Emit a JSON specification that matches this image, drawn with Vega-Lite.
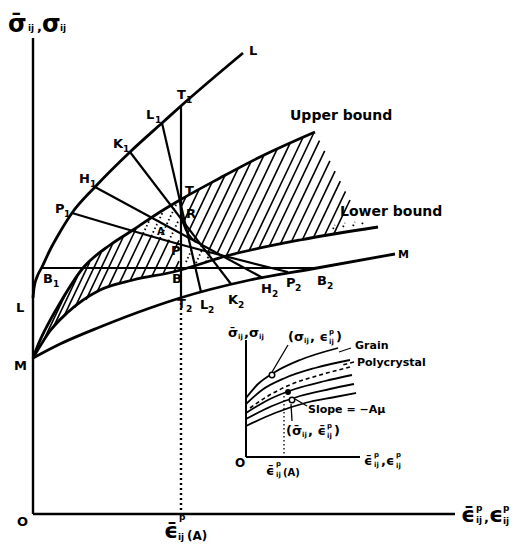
{
"$schema": "https://vega.github.io/schema/vega-lite/v6.json",
"width": 515, "height": 546,
"autosize": {"type": "fit", "contains": "padding"},
"padding": 0,
"background": "#ffffff",
"config": {"view": {"stroke": null}},
"datasets": {
"lines": [
{"id":"ya","k":"axis","o":1,"x":0,"y":0},{"id":"ya","k":"axis","o":2,"x":0,"y":476},
{"id":"xa","k":"axis","o":1,"x":0,"y":0},{"id":"xa","k":"axis","o":2,"x":422,"y":0},
{"id":"Lc","k":"thick","o":1,"x":0,"y":216},{"id":"Lc","k":"thick","o":2,"x":1,"y":226},{"id":"Lc","k":"thick","o":3,"x":4,"y":237},{"id":"Lc","k":"thick","o":4,"x":9,"y":247},{"id":"Lc","k":"thick","o":5,"x":17,"y":264},{"id":"Lc","k":"thick","o":6,"x":27,"y":282},{"id":"Lc","k":"thick","o":7,"x":39,"y":301},{"id":"Lc","k":"thick","o":8,"x":62,"y":327},{"id":"Lc","k":"thick","o":9,"x":97,"y":362},{"id":"Lc","k":"thick","o":10,"x":129,"y":391},{"id":"Lc","k":"thick","o":11,"x":149,"y":409},{"id":"Lc","k":"thick","o":12,"x":210,"y":461},
{"id":"Mc","k":"thick","o":1,"x":0,"y":156},{"id":"Mc","k":"thick","o":2,"x":27,"y":170},{"id":"Mc","k":"thick","o":3,"x":67,"y":187},{"id":"Mc","k":"thick","o":4,"x":117,"y":206},{"id":"Mc","k":"thick","o":5,"x":147,"y":216},{"id":"Mc","k":"thick","o":6,"x":217,"y":234},{"id":"Mc","k":"thick","o":7,"x":284,"y":246},{"id":"Mc","k":"thick","o":8,"x":362,"y":260},
{"id":"Ub","k":"thick","o":1,"x":0,"y":156},{"id":"Ub","k":"thick","o":2,"x":5,"y":169},{"id":"Ub","k":"thick","o":3,"x":12,"y":184},{"id":"Ub","k":"thick","o":4,"x":27,"y":211},{"id":"Ub","k":"thick","o":5,"x":50,"y":246},{"id":"Ub","k":"thick","o":6,"x":77,"y":269},{"id":"Ub","k":"thick","o":7,"x":100,"y":284},{"id":"Ub","k":"thick","o":8,"x":127,"y":302},{"id":"Ub","k":"thick","o":9,"x":147,"y":314},{"id":"Ub","k":"thick","o":10,"x":187,"y":336},{"id":"Ub","k":"thick","o":11,"x":227,"y":357},{"id":"Ub","k":"thick","o":12,"x":282,"y":382},
{"id":"Lb","k":"thick","o":1,"x":0,"y":156},{"id":"Lb","k":"thick","o":2,"x":9,"y":171},{"id":"Lb","k":"thick","o":3,"x":17,"y":183},{"id":"Lb","k":"thick","o":4,"x":34,"y":201},{"id":"Lb","k":"thick","o":5,"x":67,"y":224},{"id":"Lb","k":"thick","o":6,"x":100,"y":234},{"id":"Lb","k":"thick","o":7,"x":140,"y":242},{"id":"Lb","k":"thick","o":8,"x":197,"y":259},{"id":"Lb","k":"thick","o":9,"x":267,"y":274},{"id":"Lb","k":"thick","o":10,"x":345,"y":287},
{"id":"Ev","k":"mid","o":1,"x":147,"y":316},{"id":"Ev","k":"mid","o":2,"x":148,"y":302},{"id":"Ev","k":"mid","o":3,"x":151,"y":289},{"id":"Ev","k":"mid","o":4,"x":156,"y":279},{"id":"Ev","k":"mid","o":5,"x":163,"y":272},
{"id":"Pr","k":"mid","o":1,"x":39,"y":301},{"id":"Pr","k":"mid","o":2,"x":142,"y":271},{"id":"Pr","k":"mid","o":3,"x":255,"y":242},
{"id":"Hr","k":"mid","o":1,"x":62,"y":327},{"id":"Hr","k":"mid","o":2,"x":230,"y":236},
{"id":"Kr","k":"mid","o":1,"x":97,"y":362},{"id":"Kr","k":"mid","o":2,"x":198,"y":230},
{"id":"Lr","k":"mid","o":1,"x":129,"y":391},{"id":"Lr","k":"mid","o":2,"x":168,"y":222},
{"id":"Tr","k":"mid","o":1,"x":148,"y":409},{"id":"Tr","k":"mid","o":2,"x":148,"y":216},
{"id":"Br","k":"mid","o":1,"x":9,"y":246},{"id":"Br","k":"mid","o":2,"x":284,"y":246},
{"id":"Td","k":"dot","o":1,"x":148,"y":216},{"id":"Td","k":"dot","o":2,"x":148,"y":0},
{"id":"iy","k":"iaxis","o":1,"x":213,"y":57},{"id":"iy","k":"iaxis","o":2,"x":213,"y":174},
{"id":"ix","k":"iaxis","o":1,"x":213,"y":57},{"id":"ix","k":"iaxis","o":2,"x":327,"y":57},
{"id":"c1","k":"icurve","o":1,"x":213,"y":116},{"id":"c1","k":"icurve","o":2,"x":225,"y":130},{"id":"c1","k":"icurve","o":3,"x":242,"y":142},{"id":"c1","k":"icurve","o":4,"x":267,"y":154},{"id":"c1","k":"icurve","o":5,"x":305,"y":166},
{"id":"c2","k":"icurve","o":1,"x":213,"y":110},{"id":"c2","k":"icurve","o":2,"x":229,"y":124},{"id":"c2","k":"icurve","o":3,"x":252,"y":136},{"id":"c2","k":"icurve","o":4,"x":282,"y":146},{"id":"c2","k":"icurve","o":5,"x":317,"y":154},
{"id":"c3","k":"dash","o":1,"x":217,"y":106},{"id":"c3","k":"dash","o":2,"x":235,"y":118},{"id":"c3","k":"dash","o":3,"x":259,"y":130},{"id":"c3","k":"dash","o":4,"x":287,"y":139},{"id":"c3","k":"dash","o":5,"x":317,"y":147},
{"id":"c4","k":"icurve","o":1,"x":213,"y":101},{"id":"c4","k":"icurve","o":2,"x":235,"y":114},{"id":"c4","k":"icurve","o":3,"x":262,"y":125},{"id":"c4","k":"icurve","o":4,"x":292,"y":133},{"id":"c4","k":"icurve","o":5,"x":319,"y":139},
{"id":"c5","k":"icurve","o":1,"x":213,"y":95},{"id":"c5","k":"icurve","o":2,"x":239,"y":108},{"id":"c5","k":"icurve","o":3,"x":267,"y":118},{"id":"c5","k":"icurve","o":4,"x":297,"y":125},{"id":"c5","k":"icurve","o":5,"x":321,"y":130},
{"id":"c6","k":"icurve","o":1,"x":213,"y":88},{"id":"c6","k":"icurve","o":2,"x":242,"y":101},{"id":"c6","k":"icurve","o":3,"x":272,"y":111},{"id":"c6","k":"icurve","o":4,"x":302,"y":117},{"id":"c6","k":"icurve","o":5,"x":323,"y":121},
{"id":"l1","k":"thin","o":1,"x":255,"y":169},{"id":"l1","k":"thin","o":2,"x":239,"y":142},
{"id":"l2","k":"thin","o":1,"x":318,"y":166},{"id":"l2","k":"thin","o":2,"x":306,"y":162},
{"id":"l3","k":"dash","o":1,"x":321,"y":152},{"id":"l3","k":"dash","o":2,"x":309,"y":149},
{"id":"l4","k":"thin","o":1,"x":274,"y":108},{"id":"l4","k":"thin","o":2,"x":262,"y":115},
{"id":"l5","k":"thin","o":1,"x":259,"y":93},{"id":"l5","k":"thin","o":2,"x":258,"y":110},
{"id":"id","k":"idot","o":1,"x":251,"y":118},{"id":"id","k":"idot","o":2,"x":251,"y":57}
],
"hatch": [
{"k":"s","x":9,"y":170.3,"x2":32,"y2":218.6},
{"k":"s","x":20,"y":186.2,"x2":44.5,"y2":237.6},
{"k":"s","x":31,"y":197.8,"x2":56.7,"y2":251.8},
{"k":"s","x":42,"y":206.6,"x2":68.1,"y2":261.4},
{"k":"s","x":53,"y":214.2,"x2":80,"y2":270.9},
{"k":"s","x":64,"y":221.9,"x2":90.7,"y2":278},
{"k":"s","x":75,"y":226.4,"x2":103.6,"y2":286.5},
{"k":"s","x":86,"y":229.8,"x2":110.1,"y2":280.4},
{"k":"s","x":97,"y":233.1,"x2":118.3,"y2":277.8},
{"k":"s","x":108,"y":235.6,"x2":127,"y2":275.5},
{"k":"s","x":119,"y":237.8,"x2":135.7,"y2":272.9},
{"k":"s","x":130,"y":240,"x2":146,"y2":273.6},
{"k":"s","x":141,"y":242.3,"x2":146,"y2":252.8},
{"k":"d","x":110.1,"y":280.4,"x2":117.3,"y2":295.5},
{"k":"d","x":118.3,"y":277.8,"x2":130.9,"y2":304.3},
{"k":"d","x":127,"y":275.5,"x2":144.7,"y2":312.7},
{"k":"d","x":135.7,"y":272.9,"x2":146,"y2":294.5},
{"k":"d","x":153,"y":252,"x2":159,"y2":265},
{"k":"d","x":163,"y":251,"x2":169,"y2":264},
{"k":"d","x":173,"y":252,"x2":177,"y2":261},
{"k":"d","x":300,"y":285,"x2":302,"y2":289},
{"k":"d","x":310,"y":287,"x2":312,"y2":291},
{"k":"d","x":320,"y":288,"x2":322,"y2":292},
{"k":"d","x":329,"y":290,"x2":331,"y2":293},
{"k":"s","x":147.7,"y":306.2,"x2":153,"y2":317.3},
{"k":"s","x":149.8,"y":290.4,"x2":166,"y2":324.45},
{"k":"s","x":154.7,"y":280.6,"x2":179,"y2":331.6},
{"k":"s","x":160.8,"y":273.1,"x2":192,"y2":338.6},
{"k":"s","x":167.8,"y":267.3,"x2":205,"y2":345.45},
{"k":"s","x":175.3,"y":262.6,"x2":218,"y2":352.3},
{"k":"s","x":183.6,"y":259.3,"x2":231,"y2":358.8},
{"k":"s","x":193.2,"y":258,"x2":244,"y2":364.7},
{"k":"s","x":204.6,"y":260.6,"x2":257,"y2":370.6},
{"k":"s","x":216,"y":263.1,"x2":270,"y2":376.5},
{"k":"s","x":225.6,"y":265.2,"x2":281,"y2":381.5},
{"k":"s","x":236.1,"y":267.5,"x2":286.5,"y2":373.3},
{"k":"s","x":247.2,"y":269.7,"x2":291.7,"y2":363.2},
{"k":"s","x":258.3,"y":272,"x2":296.9,"y2":353.05},
{"k":"s","x":269.5,"y":274.5,"x2":302.1,"y2":342.95},
{"k":"s","x":280.3,"y":276.1,"x2":307.3,"y2":332.8},
{"k":"s","x":291.2,"y":278,"x2":312.5,"y2":322.7},
{"k":"s","x":300.6,"y":279.6,"x2":317,"y2":314}
],
"pts": [
{"k":"o","x":239,"y":139},{"k":"o","x":259,"y":114},{"k":"f","x":255,"y":122}
],
"labels": [
{"t":"σ̄","x":-25,"y":482,"k":"ax"},{"t":"ij","x":-5,"y":483,"k":"sub"},{"t":",","x":4,"y":483,"k":"lab"},{"t":"σ","x":9,"y":482,"k":"ax"},{"t":"ij","x":27,"y":483,"k":"sub"},
{"t":"L","x":216,"y":459,"k":"lab"},
{"t":"T","x":144,"y":415,"k":"lab"},{"t":"1","x":153,"y":411,"k":"sub"},
{"t":"L","x":113,"y":395,"k":"lab"},{"t":"1","x":122,"y":391,"k":"sub"},
{"t":"K","x":80,"y":366,"k":"lab"},{"t":"1","x":90,"y":362,"k":"sub"},
{"t":"H","x":46,"y":331,"k":"lab"},{"t":"1","x":57,"y":327,"k":"sub"},
{"t":"P","x":22,"y":301,"k":"lab"},{"t":"1","x":31,"y":297,"k":"sub"},
{"t":"B","x":10,"y":231,"k":"lab"},{"t":"1","x":20,"y":227,"k":"sub"},
{"t":"L","x":-17,"y":202,"k":"lab"},
{"t":"M","x":-19,"y":144,"k":"lab"},
{"t":"T","x":152,"y":319,"k":"lab"},
{"t":"R","x":153,"y":296,"k":"lab"},
{"t":"P","x":138,"y":259,"k":"lab"},
{"t":"A","x":124,"y":279,"k":"a10"},
{"t":"B","x":139,"y":231,"k":"lab"},
{"t":"T","x":144,"y":206,"k":"lab"},{"t":"2","x":153,"y":202,"k":"sub"},
{"t":"L","x":167,"y":205,"k":"lab"},{"t":"2","x":175,"y":201,"k":"sub"},
{"t":"K","x":195,"y":210,"k":"lab"},{"t":"2","x":205,"y":206,"k":"sub"},
{"t":"H","x":228,"y":221,"k":"lab"},{"t":"2","x":239,"y":217,"k":"sub"},
{"t":"P","x":253,"y":227,"k":"lab"},{"t":"2","x":262,"y":223,"k":"sub"},
{"t":"B","x":284,"y":229,"k":"lab"},{"t":"2","x":294,"y":225,"k":"sub"},
{"t":"M","x":365,"y":256,"k":"small"},
{"t":"Upper bound","x":257,"y":394,"k":"bound"},
{"t":"Lower bound","x":307,"y":298,"k":"bound"},
{"t":"O","x":-16,"y":-12,"k":"lab"},
{"t":"ϵ̄","x":428,"y":-8,"k":"axe"},{"t":"p","x":443,"y":3,"k":"sub"},{"t":"ij","x":443,"y":-9,"k":"sub"},{"t":",","x":451,"y":-8,"k":"lab"},{"t":"ϵ","x":456,"y":-8,"k":"axe"},{"t":"p","x":470,"y":3,"k":"sub"},{"t":"ij","x":470,"y":-10,"k":"sub"},
{"t":"ϵ̄","x":131,"y":-24,"k":"axe"},{"t":"p","x":146,"y":-6,"k":"sub"},{"t":"ij","x":145,"y":-26,"k":"sub"},{"t":"(A)","x":154,"y":-26,"k":"paren"},
{"t":"σ̄","x":195,"y":177,"k":"isym"},{"t":"ij","x":205,"y":175,"k":"isub"},{"t":",","x":211,"y":177,"k":"isym"},{"t":"σ","x":216,"y":177,"k":"isym"},{"t":"ij","x":226,"y":175,"k":"isub"},
{"t":"(σ","x":255,"y":173,"k":"isym"},{"t":"ij","x":271,"y":171,"k":"isub"},{"t":", ϵ","x":277,"y":173,"k":"isym"},{"t":"p","x":296,"y":180,"k":"isub"},{"t":"ij","x":296,"y":170,"k":"isub"},{"t":")","x":303,"y":173,"k":"isym"},
{"t":"Grain","x":322,"y":165,"k":"small"},
{"t":"Polycrystal","x":324,"y":148,"k":"small"},
{"t":"Slope = −Aμ","x":275,"y":101,"k":"small"},
{"t":"(σ̄","x":253,"y":79,"k":"isym"},{"t":"ij","x":269,"y":77,"k":"isub"},{"t":", ϵ̄","x":275,"y":79,"k":"isym"},{"t":"p","x":294,"y":86,"k":"isub"},{"t":"ij","x":294,"y":76,"k":"isub"},{"t":")","x":301,"y":79,"k":"isym"},
{"t":"ϵ̄","x":331,"y":49,"k":"isym"},{"t":"p","x":341,"y":57,"k":"isub"},{"t":"ij","x":341,"y":47,"k":"isub"},{"t":",","x":348,"y":49,"k":"isym"},{"t":"ϵ","x":353,"y":49,"k":"isym"},{"t":"p","x":363,"y":57,"k":"isub"},{"t":"ij","x":363,"y":46,"k":"isub"},
{"t":"O","x":202,"y":47,"k":"paren"},
{"t":"ϵ̄","x":233,"y":39,"k":"isym"},{"t":"p","x":243,"y":48,"k":"isub"},{"t":"ij","x":243,"y":37,"k":"isub"},{"t":"(A)","x":250,"y":38,"k":"a10"}
]
},
"encoding": {
"x": {"field": "x", "type": "quantitative", "scale": {"domain": [-33, 482], "nice": false, "zero": false}, "axis": null},
"y": {"field": "y", "type": "quantitative", "scale": {"domain": [-32, 514], "nice": false, "zero": false}, "axis": null}
},
"layer": [
{"data": {"name": "hatch"}, "transform": [{"filter": "datum.k == 's'"}], "mark": {"type": "rule", "color": "black", "strokeWidth": 1.6}, "encoding": {"x2": {"field": "x2"}, "y2": {"field": "y2"}}},
{"data": {"name": "hatch"}, "transform": [{"filter": "datum.k == 'd'"}], "mark": {"type": "rule", "color": "black", "strokeWidth": 1.8, "strokeDash": [1.5, 2.5]}, "encoding": {"x2": {"field": "x2"}, "y2": {"field": "y2"}}},
{"data": {"name": "lines"}, "transform": [{"filter": "datum.k == 'axis'"}], "mark": {"type": "line", "color": "black", "strokeWidth": 2.4}, "encoding": {"detail": {"field": "id"}, "order": {"field": "o"}}},
{"data": {"name": "lines"}, "transform": [{"filter": "datum.k == 'thick'"}], "mark": {"type": "line", "interpolate": "monotone", "color": "black", "strokeWidth": 2.8}, "encoding": {"detail": {"field": "id"}, "order": {"field": "o"}}},
{"data": {"name": "lines"}, "transform": [{"filter": "datum.k == 'mid'"}], "mark": {"type": "line", "interpolate": "monotone", "color": "black", "strokeWidth": 2.2}, "encoding": {"detail": {"field": "id"}, "order": {"field": "o"}}},
{"data": {"name": "lines"}, "transform": [{"filter": "datum.k == 'dot'"}], "mark": {"type": "line", "color": "black", "strokeWidth": 2.4, "strokeDash": [2, 3]}, "encoding": {"detail": {"field": "id"}, "order": {"field": "o"}}},
{"data": {"name": "lines"}, "transform": [{"filter": "datum.k == 'iaxis'"}], "mark": {"type": "line", "color": "black", "strokeWidth": 2}, "encoding": {"detail": {"field": "id"}, "order": {"field": "o"}}},
{"data": {"name": "lines"}, "transform": [{"filter": "datum.k == 'icurve'"}], "mark": {"type": "line", "interpolate": "monotone", "color": "black", "strokeWidth": 1.8}, "encoding": {"detail": {"field": "id"}, "order": {"field": "o"}}},
{"data": {"name": "lines"}, "transform": [{"filter": "datum.k == 'dash'"}], "mark": {"type": "line", "interpolate": "monotone", "color": "black", "strokeWidth": 1.6, "strokeDash": [4, 3]}, "encoding": {"detail": {"field": "id"}, "order": {"field": "o"}}},
{"data": {"name": "lines"}, "transform": [{"filter": "datum.k == 'thin'"}], "mark": {"type": "line", "color": "black", "strokeWidth": 1.3}, "encoding": {"detail": {"field": "id"}, "order": {"field": "o"}}},
{"data": {"name": "lines"}, "transform": [{"filter": "datum.k == 'idot'"}], "mark": {"type": "line", "color": "black", "strokeWidth": 1.3, "strokeDash": [1.5, 2.5]}, "encoding": {"detail": {"field": "id"}, "order": {"field": "o"}}},
{"data": {"name": "pts"}, "transform": [{"filter": "datum.k == 'o'"}], "mark": {"type": "point", "shape": "circle", "filled": true, "fill": "white", "stroke": "black", "strokeWidth": 1.5, "size": 30, "opacity": 1}},
{"data": {"name": "pts"}, "transform": [{"filter": "datum.k == 'f'"}], "mark": {"type": "point", "shape": "circle", "filled": true, "color": "black", "size": 35, "opacity": 1}},
{"data": {"name": "labels"}, "transform": [{"filter": "datum.k == 'ax'"}], "mark": {"type": "text", "font": "DejaVu Sans", "fontWeight": "bold", "fontSize": 24, "align": "left", "baseline": "alphabetic", "color": "black"}, "encoding": {"text": {"field": "t"}}},
{"data": {"name": "labels"}, "transform": [{"filter": "datum.k == 'axe'"}], "mark": {"type": "text", "font": "DejaVu Sans", "fontWeight": "bold", "fontSize": 22, "align": "left", "baseline": "alphabetic", "color": "black"}, "encoding": {"text": {"field": "t"}}},
{"data": {"name": "labels"}, "transform": [{"filter": "datum.k == 'bound'"}], "mark": {"type": "text", "font": "DejaVu Sans", "fontWeight": "bold", "fontSize": 14, "align": "left", "baseline": "alphabetic", "color": "black"}, "encoding": {"text": {"field": "t"}}},
{"data": {"name": "labels"}, "transform": [{"filter": "datum.k == 'lab'"}], "mark": {"type": "text", "font": "DejaVu Sans", "fontWeight": "bold", "fontSize": 13, "align": "left", "baseline": "alphabetic", "color": "black"}, "encoding": {"text": {"field": "t"}}},
{"data": {"name": "labels"}, "transform": [{"filter": "datum.k == 'sub'"}], "mark": {"type": "text", "font": "DejaVu Sans", "fontWeight": "bold", "fontSize": 9, "align": "left", "baseline": "alphabetic", "color": "black"}, "encoding": {"text": {"field": "t"}}},
{"data": {"name": "labels"}, "transform": [{"filter": "datum.k == 'isym'"}], "mark": {"type": "text", "font": "DejaVu Sans", "fontWeight": "bold", "fontSize": 13, "align": "left", "baseline": "alphabetic", "color": "black"}, "encoding": {"text": {"field": "t"}}},
{"data": {"name": "labels"}, "transform": [{"filter": "datum.k == 'isub'"}], "mark": {"type": "text", "font": "DejaVu Sans", "fontWeight": "bold", "fontSize": 7, "align": "left", "baseline": "alphabetic", "color": "black"}, "encoding": {"text": {"field": "t"}}},
{"data": {"name": "labels"}, "transform": [{"filter": "datum.k == 'small'"}], "mark": {"type": "text", "font": "DejaVu Sans", "fontWeight": "bold", "fontSize": 11, "align": "left", "baseline": "alphabetic", "color": "black"}, "encoding": {"text": {"field": "t"}}},
{"data": {"name": "labels"}, "transform": [{"filter": "datum.k == 'a10'"}], "mark": {"type": "text", "font": "DejaVu Sans", "fontWeight": "bold", "fontSize": 10, "align": "left", "baseline": "alphabetic", "color": "black"}, "encoding": {"text": {"field": "t"}}},
{"data": {"name": "labels"}, "transform": [{"filter": "datum.k == 'paren'"}], "mark": {"type": "text", "font": "DejaVu Sans", "fontWeight": "bold", "fontSize": 12, "align": "left", "baseline": "alphabetic", "color": "black"}, "encoding": {"text": {"field": "t"}}}
]
}
